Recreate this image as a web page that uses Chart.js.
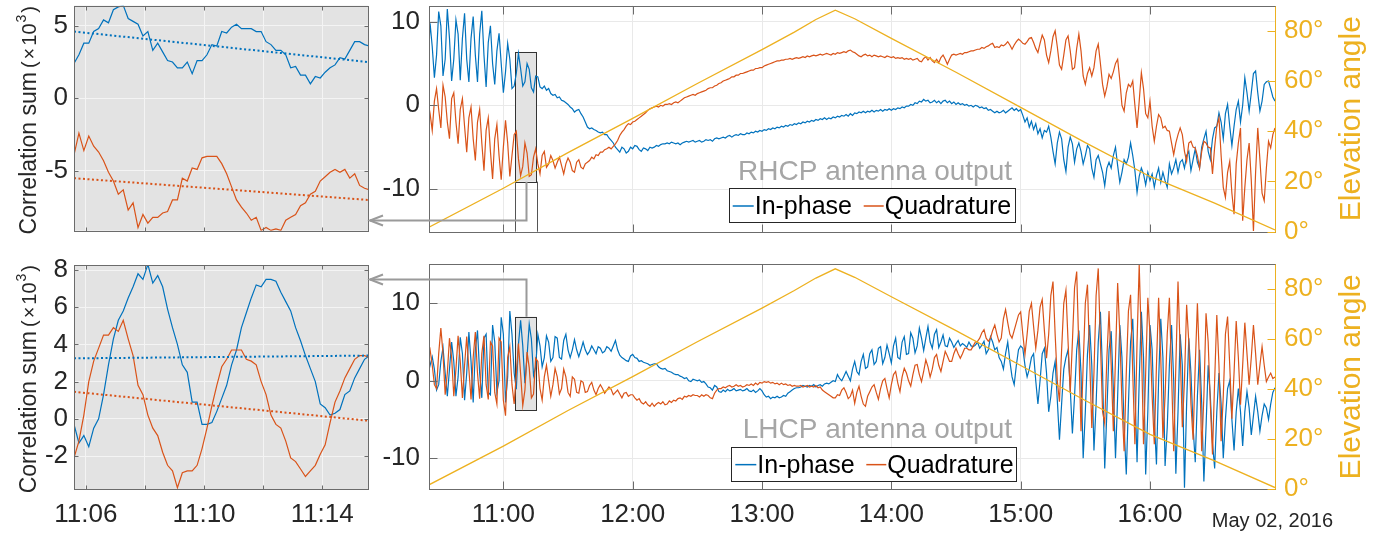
<!DOCTYPE html>
<html>
<head>
<meta charset="utf-8">
<script src="https://cdn.jsdelivr.net/npm/chart.js@4.4.0/dist/chart.umd.min.js"></script>
<style>
  html, body { margin: 0; padding: 0; background: #fff; overflow: hidden; }
  body { width: 1396px; height: 536px; position: relative; }
  .pane { position: absolute; left: 0; }
  canvas { display: block; }
</style>
</head>
<body>
<div class="pane" style="top:-30px"><canvas id="zoomTop" width="372" height="288"></canvas></div>
<div class="pane" style="top:228px"><canvas id="zoomBottom" width="372" height="308"></canvas></div>
<div class="pane" style="top:-30px"><canvas id="mainTop" width="1396" height="288"></canvas></div>
<div class="pane" style="top:228px"><canvas id="mainBottom" width="1396" height="308"></canvas></div>
<script>
// ---- data (time in minutes after midnight, May 02 2016) ----
// main panels: one sample per minute starting at 10:25
const mainT0 = 625;

const rhcpInPhase = [
  4.5, 9.8, 7.0, 3.3, 6.0, 11.2, 9.5, 3.5, 5.5, 11.5,
  8.0, 2.9, 5.5, 10.2, 8.5, 3.0, 8.0, 11.0, 5.5, 2.8,
  8.0, 10.6, 6.0, 2.8, 8.5, 11.3, 6.0, 2.2, 7.5, 9.5,
  5.0, 2.5, 6.5, 8.6, 5.0, 1.5, 4.0, 7.4, 5.5, 2.0,
  2.3, 3.8, 6.2, 4.4, 2.3, 2.8, 5.0, 4.3, 2.1, 1.6,
  3.5, 3.4, 2.2, 2.0, 2.3, 1.8, 2.0, 1.4, 1.2, 1.3,
  0.9, 1.0, 0.6, 0.5, 0.3, 0.1, -0.2, -0.4, -0.8, -0.6,
  -0.5, -1.0, -1.4, -2.0, -2.6, -2.8, -2.7, -2.9, -3.0, -3.2,
  -3.3, -3.2, -3.5, -3.5, -3.9, -4.2, -4.5, -5.0, -5.3, -5.6,
  -5.0, -5.2, -5.7, -5.5, -5.0, -5.2, -4.8, -4.9, -5.3, -5.5,
  -5.1, -5.2, -5.4, -5.0, -5.1, -5.0, -4.8, -4.9, -4.7, -4.6,
  -4.6, -4.5, -4.6, -4.4, -4.5, -4.6, -4.5, -4.7, -4.5, -4.4,
  -4.3, -4.4, -4.3, -4.2, -4.4, -4.3, -4.2, -4.4, -4.3, -4.1,
  -4.2, -4.1, -4.3, -4.0, -3.9, -4.0, -3.9, -3.8, -3.9, -3.7,
  -3.6, -3.8, -3.6, -3.5, -3.6, -3.4, -3.5, -3.5, -3.3, -3.4,
  -3.2, -3.3, -3.1, -3.2, -3.0, -3.1, -2.9, -3.0, -2.8, -2.9,
  -2.7, -2.8, -2.6, -2.7, -2.5, -2.6, -2.4, -2.5, -2.3, -2.4,
  -2.2, -2.3, -2.1, -2.2, -2.0, -2.1, -1.9, -2.0, -1.8, -1.9,
  -1.7, -1.8, -1.6, -1.7, -1.5, -1.7, -1.5, -1.6, -1.4, -1.5,
  -1.3, -1.4, -1.2, -1.3, -1.1, -1.3, -1.0, -1.2, -0.9, -1.0,
  -0.8, -0.9, -0.7, -0.9, -0.7, -0.8, -0.6, -0.8, -0.6, -0.7,
  -0.5, -0.7, -0.5, -0.6, -0.4, -0.6, -0.4, -0.5, -0.3, -0.4,
  -0.2, -0.3, -0.1, -0.1, 0.1, 0.0, 0.3, 0.2, 0.5, 0.4,
  0.7, 0.5, 0.6, 0.3, 0.4, 0.6, 0.3, 0.5, 0.2, 0.5,
  0.6, 0.3, 0.5, 0.2, 0.4, 0.1, 0.3, 0.1, 0.2, 0.0,
  0.1, -0.1, 0.0, -0.2, 0.0, -0.1, -0.3, -0.2, -0.4, -0.3,
  -0.6, -0.5, -0.7, -0.9, -0.7, -0.9, -0.8, -0.6, -0.9, -0.7,
  -0.5, -0.3, -0.6, -0.4, -0.7, -0.5, -1.2, -2.0, -1.5, -2.6,
  -1.9, -2.9, -2.2, -3.4, -2.8, -3.9, -3.0, -3.2, -2.5, -3.8,
  -5.5, -7.0, -4.5, -3.2, -4.0, -6.5, -7.9, -5.0, -3.8, -4.6,
  -6.8, -5.2, -4.5, -5.5, -7.0, -6.0, -4.8, -5.2, -7.5, -8.6,
  -6.5, -6.0, -7.0, -8.0, -9.6, -7.5, -6.8, -7.5, -6.0, -5.0,
  -7.2, -9.2, -8.0, -6.5, -7.0, -6.2, -4.5, -6.0, -7.8, -10.4,
  -8.5, -7.5, -8.2, -9.5, -8.0, -9.0, -8.2, -9.8, -8.4, -7.5,
  -9.2, -8.0, -9.0, -9.8, -7.0, -8.2, -7.5, -6.5, -8.0, -6.8,
  -6.5, -7.5, -6.0, -5.5, -7.8, -6.5, -5.2, -6.8, -7.5, -5.0,
  -4.0, -3.1, -5.5, -6.5, -4.0, -2.7, -2.5, -0.9, -2.0, -4.0,
  -1.0, 0.1, -2.5, -4.8, -2.5, -0.5, 0.5, -2.0, 0.0, 3.3,
  1.5, -0.7, 1.5, 3.8, 4.1, 1.5, -0.7, 0.5, 2.5, 2.8,
  2.9, 2.0, 1.0, 0.5
];

const rhcpQuadrature = [
  0.5, -1.0, -3.0, 0.5, 2.0, -0.5, -2.7, 2.4, 1.0, -2.0,
  -4.0, 0.8, 1.5, -2.0, -4.6, -0.5, 0.8, -2.5, -5.6, -1.5,
  -0.2, -4.0, -6.6, -2.0, -0.5, -4.5, -7.8, -3.0, -1.5, -5.5,
  -8.8, -4.0, -2.3, -6.0, -8.9, -5.0, -1.8, -4.5, -8.5, -6.0,
  -3.5, -3.1, -6.4, -8.4, -7.3, -4.5, -5.7, -8.5, -8.3, -6.2,
  -5.2, -7.0, -8.2, -6.0, -5.5, -7.4, -7.0, -6.0, -6.6, -7.5,
  -6.8, -6.2, -7.2, -8.2, -7.0, -6.3, -6.8, -7.8, -8.0, -6.8,
  -6.5, -7.4, -7.6, -7.0, -6.8, -6.6, -6.2, -6.4, -5.9, -6.0,
  -5.6, -5.6, -5.3, -5.2, -5.0, -5.2, -4.9, -4.6, -4.2, -3.6,
  -3.2, -2.9, -2.5, -2.2, -2.3, -2.0, -1.9, -1.7, -1.5, -1.3,
  -1.1, -0.9, -0.6, -0.4, -0.3, -0.2, -0.1, -0.2, 0.0, -0.1,
  0.1, 0.1, 0.2, 0.1, 0.3, 0.4, 0.3, 0.5, 0.7, 0.9,
  1.0, 1.1, 1.2, 1.3, 1.2, 1.4, 1.5, 1.6, 1.7, 1.8,
  2.0, 2.1, 2.1, 2.3, 2.4, 2.6, 2.7, 2.9, 3.0, 3.1,
  3.2, 3.4, 3.4, 3.6, 3.6, 3.8, 3.8, 3.9, 4.0, 4.1,
  4.2, 4.2, 4.4, 4.4, 4.5, 4.5, 4.7, 4.8, 4.9, 5.0,
  5.1, 5.2, 5.3, 5.3, 5.4, 5.4, 5.5, 5.5, 5.6, 5.5,
  5.6, 5.7, 5.6, 5.7, 5.8, 5.7, 5.9, 5.8, 5.9, 6.0,
  5.9, 6.0, 6.1, 6.0, 6.1, 6.2, 6.1, 6.0, 6.2, 6.1,
  6.3, 6.2, 6.3, 6.4, 6.3, 6.5, 6.6, 6.4, 6.3, 6.1,
  5.9, 5.8, 6.0, 6.1, 5.9, 6.0, 5.8, 6.0, 5.9, 5.8,
  5.9, 5.8, 5.7, 5.9, 5.8, 5.7, 5.8, 5.6, 5.7, 5.6,
  5.7, 5.5, 5.6, 5.5, 5.6, 5.4, 5.5, 5.6, 5.3, 5.2,
  5.6, 5.8, 5.4, 5.7, 5.3, 5.1, 5.5, 5.1, 5.7, 6.0,
  5.5, 4.9, 5.5, 6.0, 6.1, 6.0, 6.1, 6.2, 6.1, 6.3,
  6.3, 6.4, 6.5, 6.5, 6.6, 6.7, 6.7, 6.9, 6.8, 7.0,
  7.1, 7.3, 7.4, 6.9, 7.0, 6.9, 7.2, 7.1, 7.3, 7.6,
  7.2, 6.7, 7.2, 7.6, 7.9, 7.7, 7.4, 7.3, 7.6, 8.0,
  8.1, 7.5, 6.8, 6.3, 7.4, 8.4, 7.8, 6.0, 5.1, 6.5,
  8.2, 8.9, 7.0, 4.8, 4.3, 6.0, 7.8, 8.3, 6.5, 4.3,
  4.5, 6.8, 8.5, 6.5, 3.5, 2.5, 3.8, 4.5, 3.5, 4.5,
  6.5, 7.3, 5.0, 2.5, 1.1, 2.2, 3.7, 3.2, 4.0, 5.0,
  5.5, 3.0, 0.0, -0.7, 1.5, 2.5, 2.2, 2.9, 0.0, -2.7,
  0.5, 3.9, 2.0, -1.0, -1.5, 0.5, -2.5, -4.3, -2.5, -1.1,
  -1.5, -2.7, -2.5, -3.0, -3.1, -4.5, -5.9, -4.5, -3.5, -2.7,
  -3.5, -5.5, -6.7, -4.5, -4.3, -5.0, -5.1, -6.0, -7.5, -5.5,
  -4.3, -4.5, -5.0, -5.1, -8.2, -5.0, -2.5, -1.5, -6.0, -9.8,
  -11.0, -8.0, -6.7, -10.5, -13.0, -7.0, -4.5, -2.7, -13.8, -9.8,
  -6.5, -4.5, -9.0, -15.0, -8.0, -2.7, -6.5, -10.5, -11.4, -7.5,
  -4.3, -5.1, -3.5, -2.7
];

const lhcpInPhase = [
  0.8, 2.0, 3.1, 1.5, -1.2, -0.5, 2.5, 4.3, 1.0, -2.0,
  1.5, 5.0, 2.5, -2.0, 0.5, 5.6, 3.5, -2.5, 1.0, 6.3,
  2.5, -2.8, 4.0, 6.5, 1.0, -2.2, 5.5, 6.0, -1.5, -1.8,
  7.2, 5.0, -1.5, 0.0, 8.2, 6.0, -2.8, 0.5, 9.0, 6.0,
  1.0, -1.1, 4.7, 7.8, 4.5, -0.3, 3.2, 7.3, 5.4, 0.7,
  1.8, 6.0, 4.5, 1.8, 3.0, 5.8, 5.0, 2.5, 3.0, 5.7,
  5.5, 3.0, 2.8, 5.2, 6.0, 4.0, 3.0, 4.0, 5.3, 4.0,
  3.1, 4.0, 5.0, 4.0, 3.4, 3.8, 4.5, 4.0, 3.5, 4.4,
  4.2, 3.6, 3.8, 4.4, 4.2, 3.8, 4.5, 5.2, 4.0, 3.3,
  3.0, 2.8, 2.6, 2.5, 3.2, 3.4, 3.0, 2.9, 2.5, 2.6,
  2.4, 2.3, 2.2, 2.0, 2.1, 2.2, 2.2, 1.8, 1.6, 1.5,
  1.6, 1.3, 1.2, 1.1, 0.9, 0.8, 0.8, 0.6, 0.5, 0.3,
  0.4, 0.0, -0.1, 0.2, 0.1, 0.0, 0.1, -0.2, -0.1, -0.4,
  -0.8, -0.9, -1.2, -0.6, -0.8, -1.4, -1.5, -1.2, -1.4, -1.1,
  -1.3, -1.2, -1.0, -1.3, -1.2, -1.1, -1.3, -1.2, -1.0, -1.3,
  -1.4, -1.2, -1.5, -1.3, -1.0, -1.3, -1.8, -2.1, -2.0, -2.3,
  -2.1, -2.2, -2.0, -2.2, -2.1, -1.9, -2.0, -1.6, -1.4, -1.2,
  -1.0, -0.9, -0.9, -0.8, -0.6, -0.7, -0.8, -0.6, -0.7, -0.5,
  -0.8, -0.6, -0.5, -0.7, -0.4, -0.3, -0.4, -0.2, 0.0, -0.1,
  0.8, 0.3, 0.0, 0.6, 1.2, 0.6, 0.0, 1.5, 2.5, 1.2,
  0.8, 2.5, 3.4, 1.6, 1.8, 3.5, 4.0, 2.1, 2.5, 4.2,
  4.4, 2.2, 3.0, 4.6, 3.5, 2.3, 4.5, 5.5, 3.0, 2.8,
  5.0, 5.7, 3.4, 3.5, 6.2, 5.5, 3.6, 4.5, 6.8, 5.5,
  3.9, 5.5, 7.0, 5.0, 4.2, 6.0, 6.6, 4.3, 5.0, 5.9,
  4.5, 4.4, 5.5, 5.0, 4.3, 4.8, 5.2, 4.5, 4.8, 4.6,
  4.3, 5.0, 4.5, 4.4, 4.6, 5.0, 4.2, 4.6, 5.1, 3.5,
  4.0, 5.7, 5.0, 4.0, 4.3, 3.0, 2.5, 1.5, 3.5, 5.0,
  2.5, 0.5, -0.5, 2.0, 4.0, 4.5, 4.2, 2.0, 0.5, 1.5,
  3.0, 3.5, 0.0, -3.0, 0.0, 3.5, 4.2, 1.0, -4.0, -2.0,
  1.0, 2.5, -2.5, -7.6, -3.0, 1.5, 3.0, 4.0, -1.0, -6.8,
  -2.0, 4.0, 6.5, 1.0, -10.0, -4.0, 3.5, 7.2, 2.0, -9.0,
  -3.0, 5.0, 8.9, 1.0, -11.3, -4.0, 4.0, 6.4, -1.0, -10.0,
  -2.0, 7.2, 3.0, -6.0, -12.1, -3.0, 5.0, 8.0, -1.0, -10.5,
  0.0, 8.9, 3.0, -12.1, -4.0, 7.2, 4.0, -5.0, -10.8, 0.0,
  8.0, 3.0, -11.0, -6.0, 2.0, 7.2, 0.0, -12.0, -4.0, 6.0,
  2.0, -13.8, -3.0, 5.5, 1.0, -6.0, -10.5, -2.0, 4.0, -3.0,
  -13.0, -6.0, 2.0, -2.0, -8.0, -11.3, -4.0, 1.0, -3.0, -10.0,
  -5.0, -1.0, 0.0, -5.0, -9.0, -4.0, -1.0, -4.0, -8.4, -4.0,
  -1.4, -3.5, -7.0, -4.5, -2.0, -4.0, -6.5, -4.5, -3.0, -3.5,
  -5.0, -3.0, -1.5, -0.9
];

const lhcpQuadrature = [
  3.0, 4.0, 2.0, -0.5, -1.0, 3.5, 6.8, 3.5, -1.8, 1.0,
  5.5, 3.0, -2.0, 1.5, 5.8, 2.5, -2.2, 2.0, 5.7, 1.5,
  -2.4, 3.0, 6.3, 1.0, -2.3, 3.5, 5.8, -0.5, -2.4, 5.0,
  4.5, -1.5, -3.0, 5.5, 5.0, -2.5, -4.5, 3.0, 4.4, -0.5,
  -3.0, 0.9, 4.8, 0.9, -3.2, -1.2, 3.7, 1.7, -2.2, -1.7,
  2.9, 2.5, -1.0, -2.5, 0.5, 2.0, 0.0, -2.0, -0.5, 1.6,
  0.5, -1.7, -1.0, 1.5, 0.5, -1.5, -2.0, 0.5, 0.2, -1.5,
  -1.6, 0.0, -0.2, -1.5, -1.4, -0.6, -0.2, -1.2, -1.8, -1.0,
  -0.5, -1.0, -1.6, -1.2, -0.8, -1.1, -1.8, -1.5, -1.2, -1.7,
  -2.2, -1.6, -1.5, -2.0, -1.8, -1.8, -2.2, -2.5, -2.3, -2.8,
  -3.0, -2.7, -3.1, -3.3, -2.9, -3.3, -3.0, -2.8, -3.0, -2.7,
  -3.1, -3.0, -2.6, -2.8, -2.5, -2.6, -2.3, -2.2, -2.4, -2.0,
  -2.1, -1.9, -2.0, -1.8, -1.9, -1.9, -2.1, -1.8, -2.0, -1.8,
  -1.9, -2.2, -2.3, -1.6, -1.2, -1.0, -1.0, -0.8, -0.9, -0.7,
  -0.6, -0.8, -0.7, -0.5, -0.7, -0.6, -0.8, -0.7, -0.5, -0.6,
  -0.4, -0.6, -0.3, -0.5, -0.2, -0.3, -0.1, -0.2, -0.1, -0.3,
  -0.2, -0.4, -0.3, -0.5, -0.3, -0.5, -0.4, -0.6, -0.5, -0.7,
  -0.6, -0.7, -0.7, -0.6, -0.8, -0.7, -0.6, -0.8, -0.7, -0.8,
  -0.6, -0.9, -0.8, -1.2, -1.4, -1.6, -1.8, -2.0, -2.2, -2.2,
  -1.8, -1.9, -1.2, -0.9, -1.5, -2.3, -2.0, -1.2, -2.9, -1.5,
  -0.7, -2.0, -3.0, -3.3, -2.0, -1.4, -0.8, -0.5, -1.5, -2.4,
  -1.0, 0.0, 0.3, -1.0, -2.2, -0.5, 0.8, 1.2, -0.3, -1.4,
  0.5, 1.6, 1.0, 0.0, -0.7, 0.8, 2.0, 2.1, 0.8, -0.1,
  1.2, 2.7, 1.8, 0.5, 1.5, 3.0, 3.4, 2.0, 1.2, 2.5,
  3.8, 3.2, 2.5, 2.5, 3.5, 4.2, 3.5, 2.9, 3.5, 4.2,
  4.2, 4.0, 4.0, 4.5, 5.0, 5.1, 5.5, 6.2, 6.6, 5.5,
  5.1, 5.5, 6.5, 7.2, 6.0, 5.0, 5.5, 8.0, 9.2, 7.5,
  6.0, 5.5, 6.5, 7.5, 8.5, 8.9, 6.0, 3.4, 6.0, 9.0,
  10.0, 7.0, 4.2, 6.5, 9.5, 10.5, 6.5, 2.9, 6.0, 11.0,
  12.8, 6.0, 0.0, -2.7, 4.0, 10.0, 11.7, 5.0, -1.5, 5.0,
  12.0, 14.1, 4.0, -6.5, 2.0, 10.0, 12.4, 3.0, -6.1, 1.0,
  11.0, 14.5, 5.0, -4.0, -5.5, 3.0, 9.0, 2.0, -6.5, 3.0,
  12.6, 6.0, -3.0, -9.1, 1.0, 9.0, 11.1, 1.0, -8.2, 5.0,
  15.0, 5.0, -8.2, 1.0, 10.7, 6.0, -2.0, -8.2, 2.0, 10.7,
  3.0, -7.4, -2.0, 6.0, 10.7, 1.0, -9.1, 2.0, 12.8, 4.0,
  -6.0, 0.0, 9.8, 5.0, -3.0, -7.6, 2.0, 10.0, 2.0, -9.1,
  -2.0, 8.7, 5.0, -3.0, -9.5, 0.0, 8.5, 2.0, -7.8, -2.0,
  6.0, 8.3, 2.0, -4.9, 1.0, 7.7, 3.0, -3.1, 2.0, 7.5,
  3.5, -0.5, 3.0, 7.2, 3.5, -0.5, 2.0, 4.4, 2.0, -0.1,
  0.5, 1.0, 0.3, 0.5
];

// satellite elevation (deg)
const elevTimes = [625.5, 660, 690, 720, 750, 780, 795, 805, 814, 823, 840, 870, 900, 930, 960, 990, 1018];
const elevDeg   = [1.8, 17.3, 31.5, 45.1, 59.0, 72.5, 79.5, 84.5, 88.2, 84.8, 77.0, 63.5, 49.5, 35.5, 22.0, 11.4, 0.7];

// zoomed panels: one sample every 10 s from 11:05:36
const zoomT0 = 665.6;
const zoomRhcpI = [
  2.4, 3.0, 3.8, 3.8, 4.6, 4.8, 5.4, 5.2, 6.1, 6.3,
  6.4, 5.5, 5.3, 5.1, 4.3, 4.6, 3.3, 3.8, 3.2, 2.6,
  2.5, 2.1, 2.1, 2.5, 1.7, 2.6, 2.6, 3.0, 3.7, 3.6,
  4.6, 4.5, 4.9, 5.1, 4.8, 4.8, 4.8, 4.6, 4.6, 3.9,
  3.7, 3.3, 3.3, 3.0, 2.1, 2.2, 1.6, 1.6, 1.0, 1.5,
  1.4, 1.8, 2.1, 2.3, 2.8, 2.7, 3.3, 3.9, 3.9, 3.7, 3.6
];
const zoomRhcpQ = [
  -3.9, -2.4, -3.6, -2.6, -3.3, -3.7, -4.3, -5.1, -5.7, -6.6,
  -6.3, -7.7, -7.2, -8.9, -8.0, -8.6, -8.2, -8.2, -7.9, -7.8,
  -7.0, -7.0, -5.5, -5.7, -4.8, -4.9, -4.1, -4.0, -4.0, -4.0,
  -4.5, -5.2, -6.1, -7.0, -7.5, -7.9, -8.4, -8.2, -9.1, -8.9,
  -9.1, -9.0, -9.1, -8.4, -8.2, -8.0, -7.4, -7.2, -6.6, -6.4,
  -5.7, -5.4, -5.1, -4.9, -5.1, -4.9, -5.5, -5.2, -6.0, -6.2, -6.3
];
const zoomLhcpI = [
  -0.3, -1.3, -0.9, -1.5, -0.5, 0.0, 1.3, 2.9, 4.3, 5.3,
  5.8, 6.5, 7.1, 7.8, 7.5, 8.3, 7.3, 7.7, 7.1, 5.9,
  4.9, 4.0, 2.9, 2.5, 0.9, 0.9, -0.3, -0.3, -0.2, 0.4,
  1.1, 1.8, 2.9, 3.7, 4.9, 5.7, 6.5, 7.2, 7.1, 7.5,
  7.5, 7.4, 6.8, 6.3, 5.8, 4.9, 4.2, 3.4, 2.7, 2.0,
  0.8, 0.6, 0.2, 0.3, 0.5, 1.3, 1.5, 2.2, 2.7, 3.2, 3.4
];
const zoomLhcpQ = [
  -2.1, -1.2, 0.2, 2.0, 3.1, 3.8, 4.5, 4.5, 4.9, 4.7,
  5.3, 4.3, 3.4, 1.8, 1.3, 0.2, -0.5, -0.9, -1.8, -2.5,
  -2.8, -3.7, -2.9, -2.8, -2.8, -2.5, -1.6, -0.5, 0.7, 1.8,
  2.8, 3.2, 3.7, 3.7, 3.7, 3.2, 3.1, 2.9, 2.0, 1.3,
  0.2, -0.3, -0.5, -1.2, -2.1, -2.3, -2.7, -3.1, -2.8, -2.5,
  -1.9, -1.4, -0.2, 0.9, 1.5, 2.2, 2.7, 3.2, 3.4, 3.4, 3.3
];
// linear fits shown dotted: [value at window start, value at window end]
const zoomWindow = [665.6, 675.55];
const fitRhcpI = [4.6, 2.5];
const fitRhcpQ = [-5.5, -7.0];
const fitLhcpI = [3.25, 3.4];
const fitLhcpQ = [1.45, -0.1];

// ---- styling ----
const FONT = '"Liberation Sans", Arial, Helvetica, sans-serif';
const INK = '#262626';
const BLUE = '#0072BD', ORANGE = '#D95319', GOLD = '#EDB120';
const FRAME = '#6b6b6b';

const crisp = v => Math.round(v) + 0.5;
function seg(ctx, x1, y1, x2, y2) { ctx.beginPath(); ctx.moveTo(x1, y1); ctx.lineTo(x2, y2); ctx.stroke(); }
function series(t0, step, vals) { return vals.map((v, i) => ({ x: t0 + i * step, y: v })); }
function pairs(xs, ys) { return xs.map((x, i) => ({ x: x, y: ys[i] })); }
function hhmm(v) {
  const h = Math.floor(v / 60), m = Math.round(v - h * 60);
  return h + ':' + String(m).padStart(2, '0');
}
function line(label, data, color, extra) {
  return Object.assign({ label: label, data: data, borderColor: color, borderWidth: 1.2,
    pointRadius: 0, tension: 0, fill: false }, extra || {});
}

// axes box with inward ticks (MATLAB style)
const framePlugin = {
  id: 'frame',
  beforeDraw(chart, args, o) {
    if (!o.fill) return;
    const a = chart.chartArea, ctx = chart.ctx;
    ctx.save();
    ctx.fillStyle = o.fill;
    ctx.fillRect(a.left, a.top, a.right - a.left, a.bottom - a.top);
    ctx.restore();
  },
  afterDraw(chart, args, o) {
    const a = chart.chartArea, ctx = chart.ctx;
    const sx = chart.scales.x, sy = chart.scales.y, sy2 = chart.scales.y2;
    const L = crisp(a.left), R = crisp(a.right), T = crisp(a.top), B = crisp(a.bottom), n = o.tick;
    ctx.save();
    ctx.lineWidth = 1;
    ctx.strokeStyle = FRAME;
    sx.ticks.forEach(t => {
      const x = crisp(sx.getPixelForValue(t.value));
      seg(ctx, x, B, x, B - n); seg(ctx, x, T, x, T + n);
    });
    sy.ticks.forEach(t => {
      const y = crisp(sy.getPixelForValue(t.value));
      seg(ctx, L, y, L + n, y);
      if (!sy2) seg(ctx, R, y, R - n, y);
    });
    ctx.strokeRect(L, T, R - L, B - T);
    if (sy2) {
      ctx.strokeStyle = GOLD;
      seg(ctx, R, T, R, B);
      sy2.ticks.forEach(t => {
        const y = crisp(sy2.getPixelForValue(t.value));
        seg(ctx, R, y, R - n, y);
      });
    }
    ctx.restore();
  }
};

// rotated y title "Correlation sum (×10³)"
function drawCorrTitle(chart, x) {
  const ctx = chart.ctx, a = chart.chartArea;
  const parts = [
    { t: 'Correlation sum', f: '23px ' + FONT, dy: 0, gap: 4 },
    { t: '(', f: '20px ' + FONT, dy: 0, gap: 2 },
    { t: '\u00d7', f: '20px ' + FONT, dy: 0, gap: 2 },
    { t: '10', f: '20px ' + FONT, dy: 0, gap: 1 },
    { t: '3', f: '14px ' + FONT, dy: -10, gap: 2 },
    { t: ')', f: '20px ' + FONT, dy: 0, gap: 0 }
  ];
  ctx.save();
  let total = 0;
  parts.forEach(p => { ctx.font = p.f; p.w = ctx.measureText(p.t).width; total += p.w + p.gap; });
  ctx.translate(x, (a.top + a.bottom) / 2 + 2);
  ctx.rotate(-Math.PI / 2);
  ctx.fillStyle = INK;
  ctx.textBaseline = 'alphabetic';
  let pos = -total / 2;
  parts.forEach(p => { ctx.font = p.f; ctx.fillText(p.t, pos, p.dy); pos += p.w + p.gap; });
  ctx.restore();
}

function zoomChart(id, yMin, yMax, yStep, I, Q, fitI, fitQ, showTimes, xAxisH) {
  return new Chart(document.getElementById(id), {
    type: 'line',
    data: { datasets: [
      line('Quadrature fit', pairs(zoomWindow, fitQ), ORANGE, { borderWidth: 2, borderDash: [2, 2.5] }),
      line('In-phase fit', pairs(zoomWindow, fitI), BLUE, { borderWidth: 2, borderDash: [2, 2.5] }),
      line('Quadrature', series(zoomT0, 1 / 6, Q), ORANGE),
      line('In-phase', series(zoomT0, 1 / 6, I), BLUE)
    ] },
    options: {
      responsive: false, animation: false, parsing: false, events: [],
      layout: { padding: { left: 0, right: 4, top: id === 'zoomTop' ? 35.7 : 37, bottom: 0 }, autoPadding: false },
      plugins: { legend: { display: false }, tooltip: { enabled: false }, frame: { fill: '#e3e3e3', tick: 4 } },
      scales: {
        x: {
          type: 'linear', min: zoomWindow[0], max: zoomWindow[1],
          grid: { color: '#f4f4f4', drawTicks: false, lineWidth: 1 }, border: { display: false },
          ticks: { display: showTimes, stepSize: 2, includeBounds: false, autoSkip: false, maxRotation: 0,
                   padding: 10, color: INK, font: { family: FONT, size: 26 },
                   callback: v => ((v - 666) % 4 === 0 ? hhmm(v) : '') },
          afterFit: s => { s.height = xAxisH; }
        },
        y: {
          min: yMin, max: yMax,
          grid: { color: '#f4f4f4', drawTicks: false }, border: { display: false },
          ticks: { stepSize: yStep, includeBounds: false, padding: 6, color: INK, font: { family: FONT, size: 26 } },
          afterFit: s => { s.width = 74; }
        }
      }
    },
    plugins: [framePlugin, { id: 'ytitle', afterDraw: c => drawCorrTitle(c, 36) }]
  });
}

const zTop = zoomChart('zoomTop', -9.12, 6.38, 5, zoomRhcpI, zoomRhcpQ, fitRhcpI, fitRhcpQ, false, 27.3);
const zBot = zoomChart('zoomBottom', -3.79, 8.27, 2, zoomLhcpI, zoomLhcpQ, fitLhcpI, fitLhcpQ, true, 46.7);

function drawLegend(ctx, x, y, w, h) {
  ctx.fillStyle = '#fff';
  ctx.fillRect(x, y, w, h);
  ctx.strokeStyle = INK; ctx.lineWidth = 1;
  ctx.strokeRect(crisp(x), crisp(y), Math.round(w), Math.round(h));
  const cy = y + h / 2 + 0.5;
  ctx.lineWidth = 1.5;
  ctx.strokeStyle = BLUE; seg(ctx, x + 4, cy, x + 25, cy);
  ctx.strokeStyle = ORANGE; seg(ctx, x + 135, cy, x + 155, cy);
  ctx.fillStyle = '#000';
  ctx.font = '25px ' + FONT;
  ctx.textBaseline = 'middle';
  ctx.textAlign = 'left';
  ctx.fillText('In-phase', x + 26, cy + 1);
  ctx.fillText('Quadrature', x + 156, cy + 1);
}

function mainDecor(o) {
  return {
    id: 'decor',
    beforeDatasetsDraw(chart) {
      const ctx = chart.ctx, sx = chart.scales.x, sy = chart.scales.y, a = chart.chartArea;
      const x1 = sx.getPixelForValue(zoomWindow[0]), x2 = sx.getPixelForValue(zoomWindow[1]);
      const yT = sy.getPixelForValue(o.win[1]), yB = sy.getPixelForValue(o.win[0]);
      ctx.save();
      ctx.fillStyle = '#e3e3e3';
      ctx.fillRect(x1, yT, x2 - x1, yB - yT);
      ctx.strokeStyle = '#333';
      ctx.lineWidth = 1;
      ctx.strokeRect(crisp(x1), crisp(yT), Math.round(x2 - x1), Math.round(yB - yT));
      if (o.dropLines) {
        ctx.strokeStyle = '#555';
        seg(ctx, crisp(x1), yB, crisp(x1), a.bottom);
        seg(ctx, crisp(x2), yB, crisp(x2), a.bottom);
      }
      ctx.restore();
    },
    afterDraw(chart) {
      const ctx = chart.ctx, sx = chart.scales.x, sy = chart.scales.y, a = chart.chartArea;
      const x1 = sx.getPixelForValue(zoomWindow[0]), x2 = sx.getPixelForValue(zoomWindow[1]);
      const xc = crisp((x1 + x2) / 2);
      const yFrom = sy.getPixelForValue(o.arrowFrom), yA = crisp(sy.getPixelForValue(o.arrowLevel));
      const tip = o.target.chartArea.right + 2;
      ctx.save();
      // connector arrow to the zoomed panel
      ctx.strokeStyle = '#9a9a9a';
      ctx.lineWidth = 2;
      ctx.beginPath(); ctx.moveTo(xc, yFrom); ctx.lineTo(xc, yA); ctx.lineTo(tip, yA); ctx.stroke();
      ctx.beginPath(); ctx.moveTo(tip + 13, yA - 5); ctx.lineTo(tip, yA); ctx.lineTo(tip + 13, yA + 5); ctx.stroke();
      // panel caption
      ctx.fillStyle = '#a6a6a6';
      ctx.font = '28px ' + FONT;
      ctx.textAlign = 'right';
      ctx.textBaseline = 'alphabetic';
      ctx.fillText(o.caption, a.left + 583, a.bottom - 51.5);
      drawLegend(ctx, a.left + o.legend[0], a.bottom - o.legend[1], o.legend[2], o.legend[3]);
      // right axis title
      ctx.save();
      ctx.translate(1352, (a.top + a.bottom) / 2);
      ctx.rotate(-Math.PI / 2);
      ctx.fillStyle = GOLD;
      ctx.font = '30px ' + FONT;
      ctx.textAlign = 'center';
      ctx.textBaseline = 'middle';
      ctx.fillText('Elevation angle', 0, 0);
      ctx.restore();
      if (o.date) {
        ctx.fillStyle = INK;
        ctx.font = '20px ' + FONT;
        ctx.textAlign = 'right';
        ctx.textBaseline = 'alphabetic';
        ctx.fillText(o.date, 1333, a.bottom + 37.5);
      }
      ctx.restore();
    }
  };
}

function mainChart(id, yMin, yMax, I, Q, showTimes, topPad, xAxisH, decor) {
  return new Chart(document.getElementById(id), {
    type: 'line',
    data: { datasets: [
      line('Elevation', pairs(elevTimes, elevDeg), GOLD, { yAxisID: 'y2', borderWidth: 1.3 }),
      line('Quadrature', series(mainT0, 1, Q), ORANGE),
      line('In-phase', series(mainT0, 1, I), BLUE)
    ] },
    options: {
      responsive: false, animation: false, parsing: false, events: [],
      layout: { padding: { left: 372, right: 0, top: topPad, bottom: 0 }, autoPadding: false },
      plugins: { legend: { display: false }, tooltip: { enabled: false }, frame: { tick: 8 } },
      scales: {
        x: {
          type: 'linear', min: 625.5, max: 1018,
          grid: { color: '#e9e9e9', drawTicks: false }, border: { display: false },
          ticks: { display: showTimes, stepSize: 60, includeBounds: false, autoSkip: false, maxRotation: 0,
                   padding: 10, color: INK, font: { family: FONT, size: 26 }, callback: v => hhmm(v) },
          afterFit: s => { s.height = xAxisH; }
        },
        y: {
          min: yMin, max: yMax,
          grid: { color: '#e9e9e9', drawTicks: false }, border: { display: false },
          ticks: { stepSize: 10, includeBounds: false, padding: 9, color: INK, font: { family: FONT, size: 26 } },
          afterFit: s => { s.width = 57; }
        },
        y2: {
          position: 'right', min: 0, max: 90,
          grid: { display: false, drawTicks: false }, border: { display: false },
          ticks: { stepSize: 20, includeBounds: false, padding: 9, color: GOLD, font: { family: FONT, size: 26 },
                   callback: v => v + '\u00b0' },
          afterFit: s => { s.width = 121; }
        }
      }
    },
    plugins: [framePlugin, decor]
  });
}

mainChart('mainTop', -15.1, 11.9, rhcpInPhase, rhcpQuadrature, false, 35.7, 26.3, mainDecor({
  win: [-9.12, 6.38], dropLines: true, arrowFrom: -9.12, arrowLevel: -13.7, target: zTop,
  caption: 'RHCP antenna output', legend: [299.7, 43.4, 285.6, 34.4]
}));
mainChart('mainBottom', -14.0, 15.03, lhcpInPhase, lhcpQuadrature, true, 36.3, 46.7, mainDecor({
  win: [-3.79, 8.27], dropLines: false, arrowFrom: 8.27, arrowLevel: 13.1, target: zBot,
  caption: 'LHCP antenna output', legend: [302.3, 42.3, 285.4, 34.3], date: 'May 02, 2016'
}));
</script>
</body>
</html>
